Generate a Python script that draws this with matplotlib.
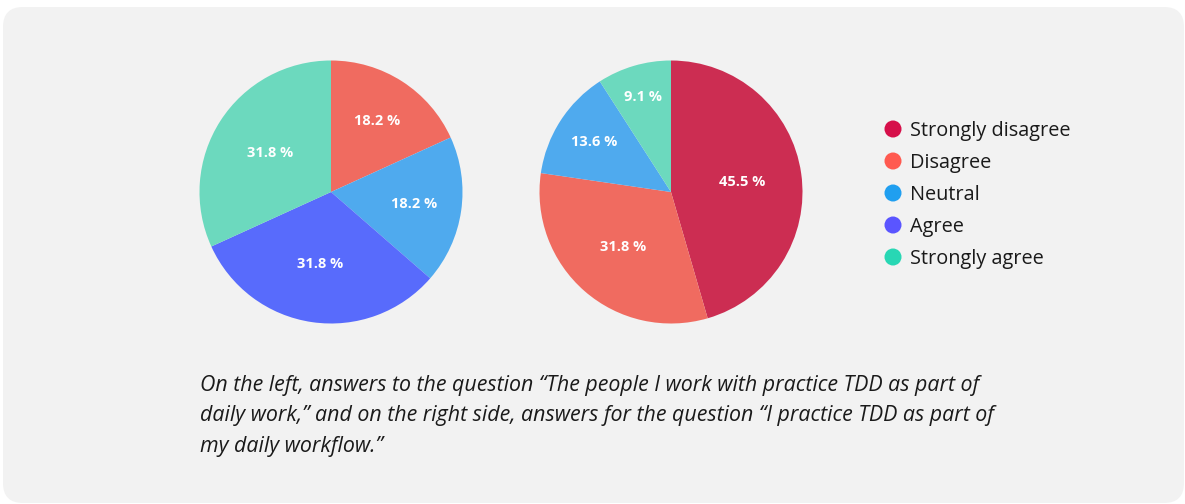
import matplotlib.pyplot as plt
from matplotlib.patches import FancyBboxPatch
import numpy as np

# answer categories shared by both pies
categories = ["Strongly disagree", "Disagree", "Neutral", "Agree", "Strongly agree"]
team_share = [0.0, 18.2, 18.2, 31.8, 31.8]      # "The people I work with practice TDD"
self_share = [45.5, 31.8, 13.6, 0.0, 9.1]       # "I practice TDD"

caption_lines = [
    "On the left, answers to the question \u201cThe people I work with practice TDD as part of",
    "daily work,\u201d and on the right side, answers for the question \u201cI practice TDD as part of",
    "my daily workflow.\u201d",
]

wedge_colors = ["#CC2D52", "#F06B60", "#4FAAEE", "#586BFC", "#6CD9BE"]
legend_colors = ["#D6104A", "#FF5A50", "#209FF0", "#5A55FF", "#28D7B4"]

FONT = "Open Sans"
W, H = 1185, 504
fig = plt.figure(figsize=(W / 100, H / 100), dpi=100)
fig.patch.set_facecolor("white")

# full-figure axes in pixel units for the card, legend and caption
bg = fig.add_axes([0, 0, 1, 1])
bg.set_xlim(0, W)
bg.set_ylim(H, 0)
bg.axis("off")
card = FancyBboxPatch((3, 7), 1181, 496, boxstyle="round,pad=0,rounding_size=20",
                      facecolor="#F2F2F2", edgecolor="none")
bg.add_patch(card)


def label_radius(frac):
    # small slices get their label pushed out towards the rim
    return max(0.55, 0.86 - 1.2 * frac)


def draw_pie(cx, cy, r, values):
    ax = fig.add_axes([(cx - r) / W, 1 - (cy + r) / H, 2 * r / W, 2 * r / H])
    wedges, _ = ax.pie(values, colors=wedge_colors, startangle=90, counterclock=False,
                       radius=1, wedgeprops=dict(linewidth=0))
    ax.set_xlim(-1, 1)
    ax.set_ylim(-1, 1)
    ax.axis("off")
    total = sum(values)
    for w, v in zip(wedges, values):
        if v <= 0:
            continue
        mid = np.deg2rad((w.theta1 + w.theta2) / 2)
        rr = label_radius(v / total)
        ax.text(rr * np.cos(mid), rr * np.sin(mid), f"{v:.1f} %", color="white",
                ha="center", va="center", fontsize=10.5, fontweight="bold", family=FONT)
    return ax


draw_pie(331, 192, 131.5, team_share)
draw_pie(671, 192, 131.5, self_share)

# legend
for i, (name, col) in enumerate(zip(categories, legend_colors)):
    y = 129 + 32 * i
    bg.scatter([893], [y], s=150, color=col, edgecolors="none")
    bg.text(910, y + 7, name, fontsize=14.3, family=FONT, color="#1a1a1a", va="baseline")

# caption
for i, line in enumerate(caption_lines):
    bg.text(200, 391 + 30.5 * i, line, fontsize=15.4, family=FONT, style="italic",
            color="#1a1a1a", va="baseline")

fig.savefig("out.png", dpi=100, facecolor=fig.get_facecolor())
